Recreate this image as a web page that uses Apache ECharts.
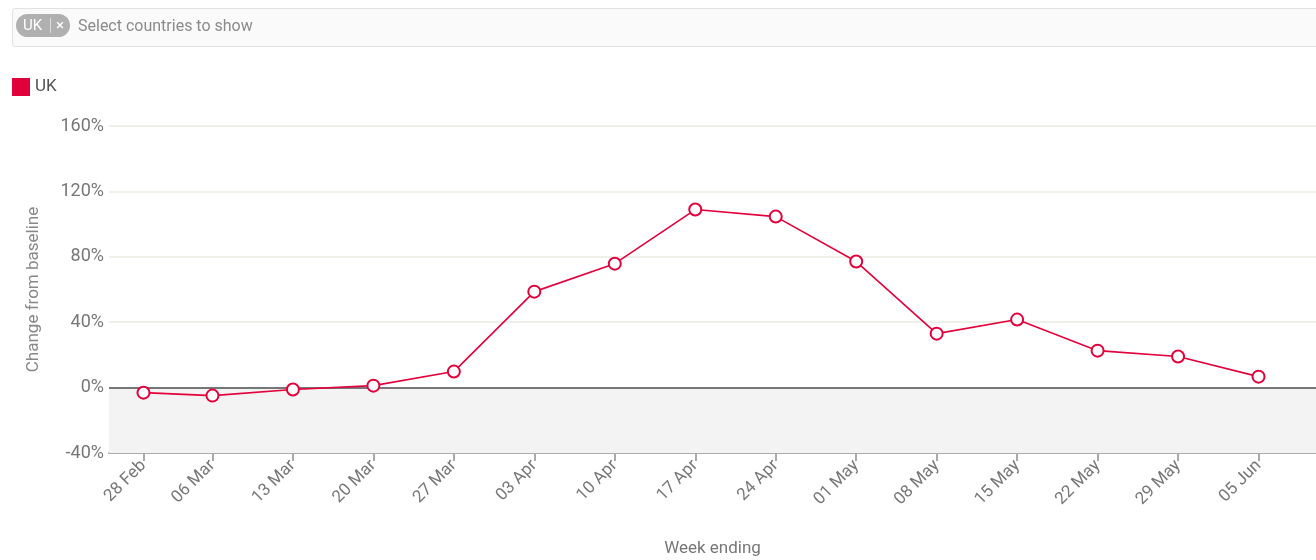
<!DOCTYPE html>
<html>
<head>
<meta charset="utf-8">
<script src="https://cdn.jsdelivr.net/npm/echarts@6/dist/echarts.min.js"></script>
<style>
  html, body { margin: 0; padding: 0; background: #fff; width: 1316px; height: 560px; overflow: hidden; font-family: Roboto, "Noto Sans", sans-serif; }
  #chart { position: absolute; left: 0; top: 0; width: 1316px; height: 560px; }
  #selectBox { position: absolute; left: 12px; top: 8px; width: 1310px; height: 37px; border: 1px solid #e2e2e2; background: #fafafa; border-radius: 3px; z-index: 2; }
  #pill { position: absolute; left: 3px; top: 5px; height: 23px; width: 54px; border-radius: 12px; background: #b0b0b0; color: #fff; font-size: 15px; line-height: 23px; }
  #pill .t { position: absolute; left: 7px; top: 0; }
  #pill .sep { position: absolute; left: 34px; top: 4px; width: 1px; height: 15px; background: #ddd; }
  #pill .x { position: absolute; left: 40px; top: 0; font-size: 15px; }
  #ph { position: absolute; left: 65px; top: 0; line-height: 34px; font-size: 16px; color: #8a8a8a; }
</style>
</head>
<body>
<div id="chart"></div>
<div id="selectBox"><div id="pill"><span class="t">UK</span><span class="sep"></span><span class="x">×</span></div><span id="ph">Select countries to show</span></div>
<script>
// Week-ending labels and their day offsets from 28 Feb
const weekLabels = ['28 Feb','06 Mar','13 Mar','20 Mar','27 Mar','03 Apr','10 Apr','17 Apr','24 Apr','01 May','08 May','15 May','22 May','29 May','05 Jun'];
const dayOffsets = [0, 6, 13, 20, 27, 34, 41, 48, 55, 62, 69, 76, 83, 90, 97];
// UK change from baseline (%)
const ukValues = [-3.1, -4.9, -1.2, 1.2, 9.8, 58.7, 75.8, 108.9, 104.6, 77.1, 33.0, 41.6, 22.6, 19.0, 6.7];
const yTicks = [-40, 0, 40, 80, 120, 160];

const labelMap = {};
dayOffsets.forEach((d, i) => { labelMap[d] = weekLabels[i]; });
const seriesData = dayOffsets.map((d, i) => [d, ukValues[i]]);

const chart = echarts.init(document.getElementById('chart'));
const font = 'Roboto, "Noto Sans", sans-serif';
chart.setOption({
  animation: false,
  textStyle: { fontFamily: font },
  legend: {
    left: 12, top: 78, padding: 0,
    itemWidth: 18, itemHeight: 18, itemGap: 10,
    icon: 'rect',
    data: [{ name: 'UK', icon: 'rect', itemStyle: { color: '#e0003a', borderWidth: 0 } }],
    textStyle: { fontSize: 17, color: '#555', fontFamily: font }
  },
  grid: { left: 109, right: 0, top: 126, bottom: 107, containLabel: false, outerBoundsMode: 'none' },
  xAxis: {
    type: 'value', min: -3, max: 102,
    name: 'Week ending', nameLocation: 'middle', nameGap: 87,
    nameTextStyle: { fontSize: 17, color: '#777' },
    axisLine: { show: true, onZero: false, lineStyle: { color: '#aaa', width: 2 } },
    axisTick: { show: true, length: 8, customValues: dayOffsets, lineStyle: { color: '#aaa', width: 2 } },
    axisLabel: {
      customValues: dayOffsets, rotate: 45, margin: 10,
      fontSize: 17, color: '#777',
      formatter: v => labelMap[v] || ''
    },
    splitLine: { show: false }
  },
  yAxis: {
    type: 'value', min: -40, max: 160, interval: 40,
    name: 'Change from baseline', nameLocation: 'middle', nameGap: 67, nameRotate: 90,
    nameTextStyle: { fontSize: 17, color: '#888' },
    axisLine: { show: false }, axisTick: { show: false },
    axisLabel: { fontSize: 18, color: '#777', margin: 5, formatter: v => v + '%' },
    splitLine: { show: true, lineStyle: { color: '#edf1ea', width: 2 } }
  },
  series: [{
    name: 'UK', type: 'line', data: seriesData,
    color: '#e0003a',
    lineStyle: { color: '#e4003b', width: 1.6 },
    symbol: 'circle', symbolSize: 12,
    itemStyle: { color: '#fff', borderColor: '#e4003b', borderWidth: 2 },
    z: 5,
    markArea: {
      silent: true,
      itemStyle: { color: '#f3f3f3' },
      data: [[{ yAxis: -40 }, { yAxis: 0 }]]
    },
    markLine: {
      silent: true, symbol: 'none', label: { show: false },
      lineStyle: { color: '#777', width: 2, type: 'solid' },
      data: [{ yAxis: 0 }]
    }
  }]
});
</script>
</body>
</html>
